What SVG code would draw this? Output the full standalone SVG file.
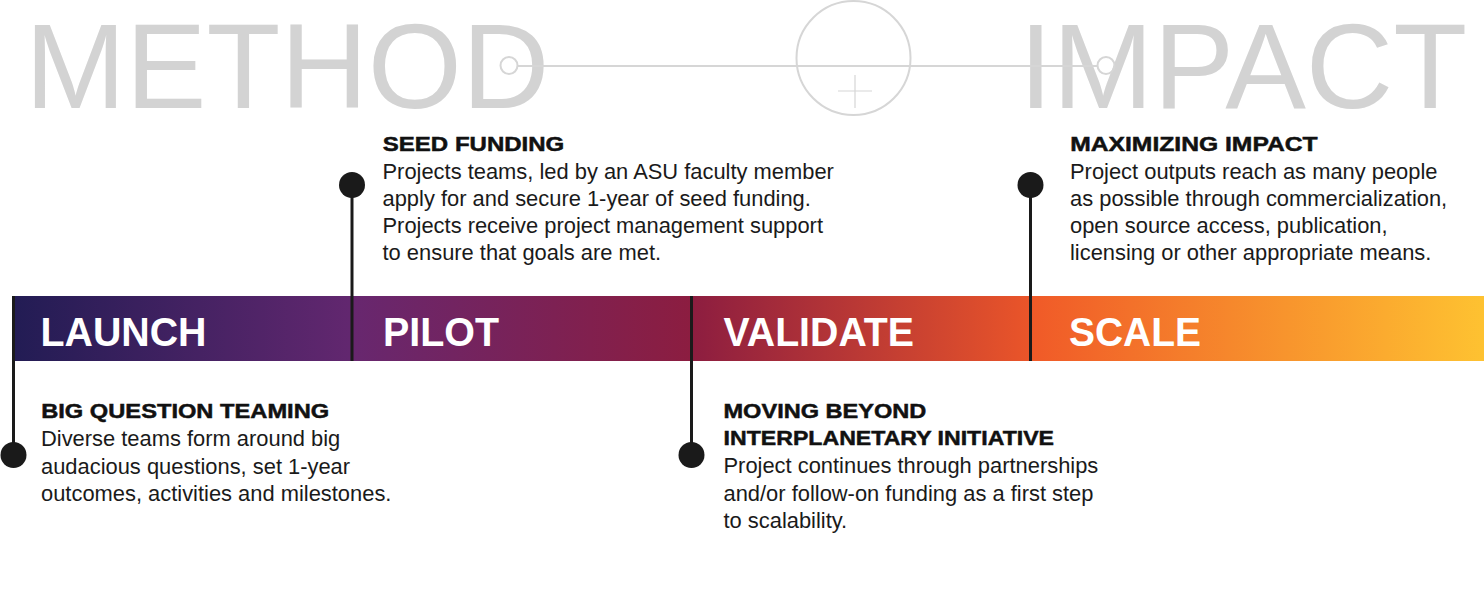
<svg xmlns="http://www.w3.org/2000/svg" width="1484" height="600" viewBox="0 0 1484 600">
  <style>
    .bg { font-family: "Liberation Sans", Arial, sans-serif; font-size: 121px; fill: #d3d3d3; }
    .deco { fill: none; stroke: #d6d6d6; stroke-width: 2; }
    .cross { stroke: #d6d6d6; stroke-width: 1.2; }
    .phase { font-family: "Liberation Sans", Arial, sans-serif; font-size: 40px; font-weight: bold; fill: #ffffff; }
    .head { font-family: "Liberation Sans", Arial, sans-serif; font-size: 21px; font-weight: bold; fill: #111111; stroke: #111111; stroke-width: 0.5; }
    .body { font-family: "Liberation Sans", Arial, sans-serif; font-size: 21.9px; fill: #1a1a1a; }
    .conn { stroke: #1a1a1a; stroke-width: 3; fill: none; }
    .dot { fill: #1a1a1a; }
  </style>
  <defs>
    <linearGradient id="barGrad" gradientUnits="userSpaceOnUse" x1="13" y1="0" x2="1484" y2="0">
      <stop offset="0" stop-color="#221c54"/>
      <stop offset="0.2291" stop-color="#62276f"/>
      <stop offset="0.2305" stop-color="#67276f"/>
      <stop offset="0.4609" stop-color="#8c1d40"/>
      <stop offset="0.6920" stop-color="#ea5529"/>
      <stop offset="0.6934" stop-color="#f05a28"/>
      <stop offset="1" stop-color="#fec231"/>
    </linearGradient>
  </defs>

  <g id="background">
    <text class="bg" x="25" y="108">METHOD</text>
    <text class="bg" x="1019" y="108">IMPACT</text>
    <line class="deco" x1="518" y1="66" x2="1097" y2="66"/>
    <circle class="deco" cx="509" cy="65.5" r="8.5"/>
    <circle class="deco" cx="1106" cy="65.5" r="8.5"/>
    <circle class="deco" cx="853.5" cy="58" r="57"/>
    <line class="cross" x1="838" y1="91" x2="872" y2="91"/>
    <line class="cross" x1="855" y1="75" x2="855" y2="108"/>
  </g>

  <g id="phase-launch">
    <rect x="13" y="296" width="339" height="65" fill="url(#barGrad)"/>
    <text class="phase" x="40.5" y="346" textLength="166" lengthAdjust="spacingAndGlyphs">LAUNCH</text>
  </g>
  <g id="phase-pilot">
    <rect x="352" y="296" width="339.5" height="65" fill="url(#barGrad)"/>
    <text class="phase" x="383" y="346" textLength="116" lengthAdjust="spacingAndGlyphs">PILOT</text>
  </g>
  <g id="phase-validate">
    <rect x="691.5" y="296" width="339" height="65" fill="url(#barGrad)"/>
    <text class="phase" x="723.5" y="346" textLength="190.5" lengthAdjust="spacingAndGlyphs">VALIDATE</text>
  </g>
  <g id="phase-scale">
    <rect x="1030.5" y="296" width="453.5" height="65" fill="url(#barGrad)"/>
    <text class="phase" x="1069" y="346" textLength="132" lengthAdjust="spacingAndGlyphs">SCALE</text>
  </g>

  <g id="connectors">
    <line class="conn" x1="13.5" y1="296" x2="13.5" y2="455"/>
    <line class="conn" x1="352" y1="185" x2="352" y2="361"/>
    <line class="conn" x1="691.5" y1="296" x2="691.5" y2="455"/>
    <line class="conn" x1="1030.5" y1="185" x2="1030.5" y2="361"/>
  </g>

  <g id="milestone-big-question-teaming">
    <circle class="dot" cx="13.5" cy="455" r="13"/>
    <text class="head" x="41.2" y="417.5" textLength="288" lengthAdjust="spacingAndGlyphs">BIG QUESTION TEAMING</text>
    <text class="body" x="41" y="446">Diverse teams form around big</text>
    <text class="body" x="41" y="473.5">audacious questions, set 1-year</text>
    <text class="body" x="41" y="501">outcomes, activities and milestones.</text>
  </g>

  <g id="milestone-seed-funding">
    <circle class="dot" cx="352" cy="185" r="13"/>
    <text class="head" x="382.8" y="150.5" textLength="181.5" lengthAdjust="spacingAndGlyphs">SEED FUNDING</text>
    <text class="body" x="382.5" y="178.5">Projects teams, led by an ASU faculty member</text>
    <text class="body" x="382.5" y="205.8">apply for and secure 1-year of seed funding.</text>
    <text class="body" x="382.5" y="233.1">Projects receive project management support</text>
    <text class="body" x="382.5" y="260.4">to ensure that goals are met.</text>
  </g>

  <g id="milestone-moving-beyond">
    <circle class="dot" cx="691.5" cy="455" r="13"/>
    <text class="head" x="723.5" y="417.5" textLength="202.8" lengthAdjust="spacingAndGlyphs">MOVING BEYOND</text>
    <text class="head" x="723.6" y="445" textLength="330.4" lengthAdjust="spacingAndGlyphs">INTERPLANETARY INITIATIVE</text>
    <text class="body" x="723.5" y="473.3">Project continues through partnerships</text>
    <text class="body" x="723.5" y="500.6">and/or follow-on funding as a first step</text>
    <text class="body" x="723.5" y="527.9">to scalability.</text>
  </g>

  <g id="milestone-maximizing-impact">
    <circle class="dot" cx="1030.5" cy="185" r="13"/>
    <text class="head" x="1070.2" y="150.5" textLength="247.5" lengthAdjust="spacingAndGlyphs">MAXIMIZING IMPACT</text>
    <text class="body" x="1070" y="178.5">Project outputs reach as many people</text>
    <text class="body" x="1070" y="205.8">as possible through commercialization,</text>
    <text class="body" x="1070" y="233.1">open source access, publication,</text>
    <text class="body" x="1070" y="260.4">licensing or other appropriate means.</text>
  </g>
</svg>
